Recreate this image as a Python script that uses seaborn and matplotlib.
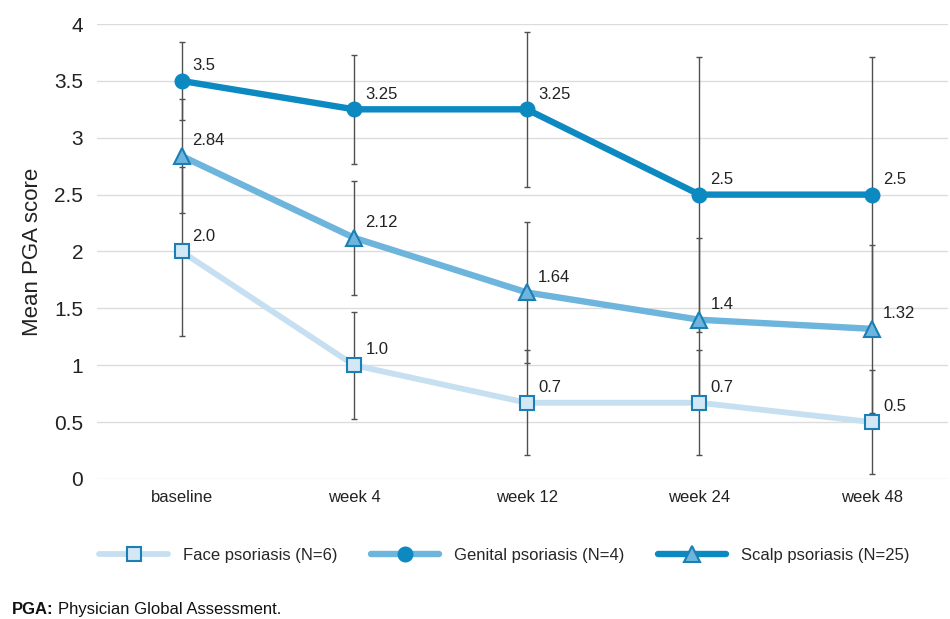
import matplotlib
matplotlib.use("Agg")
import matplotlib.pyplot as plt
from matplotlib.lines import Line2D
import numpy as np
import pandas as pd
import seaborn as sns

# Visits and mean PGA score (with SD) per psoriasis location
visits = ["baseline", "week 4", "week 12", "week 24", "week 48"]

face_mean = [2.0, 1.0, 0.67, 0.67, 0.5]
face_sd = [0.74, 0.47, 0.46, 0.46, 0.46]

genital_mean = [3.5, 3.25, 3.25, 2.5, 2.5]
genital_sd = [0.34, 0.48, 0.68, 1.21, 1.21]

scalp_mean = [2.84, 2.12, 1.64, 1.4, 1.32]
scalp_sd = [0.5, 0.5, 0.62, 0.72, 0.74]

series_names = ["Face psoriasis (N=6)", "Genital psoriasis (N=4)", "Scalp psoriasis (N=25)"]
label_formats = ["{:.1f}", "{:g}", "{:g}"]

LIGHT = "#c6e0f2"
MEDIUM = "#6db5dc"
DARK = "#0b89c0"
EDGE = "#1a7fb5"

styles = {
    series_names[0]: dict(color=LIGHT, lw=4.2, marker="s", ms=9.5, mfc="#d3e7f5", mec=EDGE, mew=1.5),
    series_names[1]: dict(color=DARK, lw=4.6, marker="o", ms=10.5, mfc=DARK, mec=DARK, mew=1.0),
    series_names[2]: dict(color=MEDIUM, lw=4.6, marker="^", ms=11, mfc=MEDIUM, mec=EDGE, mew=1.5),
}

means = [face_mean, genital_mean, scalp_mean]
sds = [face_sd, genital_sd, scalp_sd]

frames = []
for name, m, s in zip(series_names, means, sds):
    frames.append(pd.DataFrame({"visit": visits, "pos": np.arange(len(visits)),
                                "score": m, "sd": s, "group": name}))
df = pd.concat(frames, ignore_index=True)

sns.set_theme(style="white")
plt.rcParams["font.family"] = ["Liberation Sans", "DejaVu Sans"]

fig = plt.figure(figsize=(9.5, 6.19), dpi=100)
ax = fig.add_axes([0.102, 0.2262, 0.896, 0.735])

# standard deviation bars underneath the lines
for name in series_names:
    d = df[df["group"] == name]
    ax.errorbar(d["pos"], d["score"], yerr=d["sd"], fmt="none", ecolor="#505050",
                elinewidth=1.0, capsize=2.5, capthick=1.0, zorder=1)

for name, fmt in zip(series_names, label_formats):
    d = df[df["group"] == name]
    st = styles[name]
    sns.lineplot(data=d, x="pos", y="score", ax=ax, color=st["color"], linewidth=st["lw"],
                 marker=st["marker"], markersize=st["ms"], markerfacecolor=st["mfc"],
                 markeredgecolor=st["mec"], markeredgewidth=st["mew"], legend=False,
                 zorder=3, estimator=None, sort=False)
    for x, y in zip(d["pos"], d["score"]):
        ax.annotate(fmt.format(y), (x, y), xytext=(8, 11), textcoords="offset points",
                    ha="left", va="center", fontsize=12, color="#222222", zorder=5)

ax.set_xlim(-0.49, 4.44)
ax.set_ylim(0, 4)
ax.set_yticks(np.arange(0, 4.01, 0.5))
ax.set_yticklabels(["0", "0.5", "1", "1.5", "2", "2.5", "3", "3.5", "4"])
ax.set_xticks(np.arange(len(visits)))
ax.set_xticklabels(visits)
ax.tick_params(axis="y", labelsize=15, colors="#d0d0d0", labelcolor="#222222",
               length=2, width=1.5, pad=8)
ax.tick_params(axis="x", labelsize=12, labelcolor="#222222", length=0, pad=8)
ax.yaxis.grid(True, color="#dcdcdc", linewidth=1.0)
ax.set_axisbelow(True)
for sp in ax.spines.values():
    sp.set_visible(False)
ax.set_xlabel("")
ax.set_ylabel("Mean PGA score", fontsize=16, color="#222222", labelpad=8)

handles = [
    Line2D([], [], color=LIGHT, lw=4.2, marker="s", ms=9.5, mfc="#d3e7f5", mec=EDGE, mew=1.5),
    Line2D([], [], color=MEDIUM, lw=4.6, marker="o", ms=10.5, mfc=DARK, mec=DARK),
    Line2D([], [], color=DARK, lw=4.6, marker="^", ms=11, mfc=MEDIUM, mec=EDGE, mew=1.5),
]
fig.legend(handles, series_names, loc="center", bbox_to_anchor=(0.531, 0.103), ncol=3,
           frameon=False, fontsize=12, handlelength=4.1, columnspacing=2.0, handletextpad=0.9)

note = fig.text(0.013, 0.004, "PGA:", fontsize=12, fontweight="bold", color="#111111",
                ha="left", va="bottom")
ax.annotate("Physician Global Assessment.", xy=(1, 0), xycoords=note, xytext=(3, 0),
            textcoords="offset points", fontsize=12, color="#111111", ha="left",
            va="bottom", annotation_clip=False)

fig.savefig("out.png", dpi=100)
